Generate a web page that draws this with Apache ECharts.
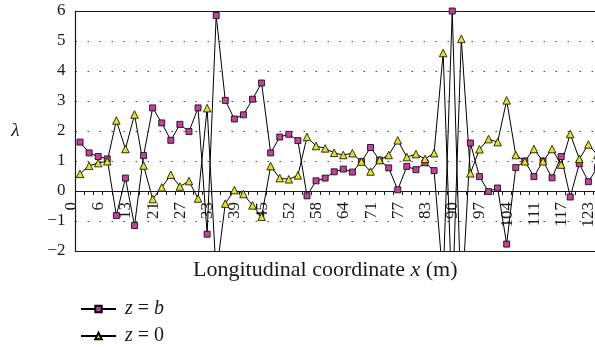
<!DOCTYPE html>
<html>
<head>
<meta charset="utf-8">
<script src="https://cdn.jsdelivr.net/npm/echarts@6/dist/echarts.min.js"></script>
<style>
  html, body { margin: 0; padding: 0; background: #fff; overflow: hidden; }
  #chart { width: 610px; height: 347px; }
</style>
</head>
<body>
<div id="chart"></div>
<script>
// x positions shown on the axis (every third measuring point)
var tickLabels = [0, 6, 13, 21, 27, 33, 39, 45, 52, 58, 64, 71, 77, 83, 90, 97, 104, 111, 117, 123];
var pointCount = 58;

// lambda at z = b (squares)
var zB = [1.63, 1.27, 1.15, 1.07, -0.82, 0.43, -1.15, 1.18, 2.77, 2.27,
          1.69, 2.22, 1.98, 2.77, -1.44, 5.85, 3.02, 2.4, 2.54, 3.06,
          3.6, 1.27, 1.8, 1.89, 1.68, -0.16, 0.34, 0.43, 0.64, 0.73,
          0.63, 0.98, 1.45, 1.03, 0.77, 0.04, 0.82, 0.71, 0.94, 0.68,
          -3.0, 6.0, -4.0, 1.6, 0.48, -0.02, 0.1, -1.77, 0.78, 1.0,
          0.48, 1.0, 0.44, 1.15, -0.2, 0.91, 0.31, 0.78];

// lambda at z = 0 (triangles)
var z0 = [0.57, 0.84, 0.93, 0.99, 2.35, 1.4, 2.55, 0.85, -0.27, 0.12,
          0.54, 0.15, 0.33, -0.25, 2.76, -2.8, -0.42, 0.03, -0.1, -0.48,
          -0.86, 0.83, 0.43, 0.39, 0.52, 1.8, 1.5, 1.42, 1.27, 1.2,
          1.26, 0.98, 0.65, 1.03, 1.2, 1.69, 1.13, 1.23, 1.07, 1.26,
          4.6, -3.8, 5.07, 0.59, 1.39, 1.73, 1.63, 3.02, 1.2, 0.99,
          1.4, 0.99, 1.4, 0.88, 1.9, 1.07, 1.55, 1.2];

var categories = [];
for (var i = 0; i < pointCount; i++) {
  categories.push(String(i));
}

var serif = '"Liberation Serif", serif';
var ink = '#1a1a1a';
var yMin = -2, yMax = 6;
var gridTop = 11, gridH = 240;
// the labelled x axis sits on lambda = 0
var zeroOffset = -gridH * (0 - yMin) / (yMax - yMin);

var borderAxis = function (pos) {
  return {
    type: 'category',
    data: categories,
    position: pos,
    axisLine: { onZero: false, lineStyle: { color: ink, width: 1.2 } },
    axisTick: { show: false },
    axisLabel: { show: false },
    splitLine: { show: false }
  };
};

var txt = function (size, italic) {
  return { fontFamily: serif, fontSize: size, fontWeight: 'normal', fontStyle: italic ? 'italic' : 'normal', color: ink };
};

var legendText = {
  padding: [0, 0, 0, 4],
  rich: { r: txt(20, false), i: txt(20, true) }
};
var legendFmt = function (name) {
  return name === 'z = b' ? '{i|z}{r| = }{i|b}' : '{i|z}{r| = 0}';
};

var myChart = echarts.init(document.getElementById('chart'));
var option = {
  animation: false,
  backgroundColor: '#fff',
  title: {
    text: '{r|Longitudinal coordinate }{i|x}{r| (m)}',
    left: 188,
    top: 254,
    textStyle: { fontWeight: 'normal', rich: { r: txt(22, false), i: txt(22, true) } }
  },
  legend: [
    { left: 75, top: 294, itemWidth: 35, itemHeight: 8, data: ['z = b'], formatter: legendFmt, textStyle: legendText },
    { left: 75, top: 321, itemWidth: 35, itemHeight: 8, data: ['z = 0'], formatter: legendFmt, textStyle: legendText }
  ],
  grid: {
    left: 75.5,
    top: gridTop,
    height: gridH,
    right: 8
  },
  xAxis: [
    {
      type: 'category',
      data: categories,
      position: 'bottom',
      offset: zeroOffset,
      boundaryGap: true,
      axisLine: { onZero: false, lineStyle: { color: ink, width: 1.2 } },
      axisTick: { show: true, interval: 0, length: 4, lineStyle: { color: ink } },
      axisLabel: {
        interval: 2,
        rotate: 90,
        margin: 11,
        verticalAlign: 'bottom',
        fontFamily: serif,
        fontSize: 17,
        color: ink,
        formatter: function (v, idx) { return idx % 3 === 0 ? String(tickLabels[idx / 3]) : ''; }
      },
      splitLine: { show: false }
    },
    borderAxis('bottom'),
    borderAxis('top')
  ],
  yAxis: {
    type: 'value',
    min: yMin,
    max: yMax,
    interval: 1,
    name: 'λ',
    nameLocation: 'middle',
    nameRotate: 0,
    nameGap: 56,
    nameTextStyle: txt(19, true),
    axisLine: { show: true, onZero: false, lineStyle: { color: ink, width: 1.2 } },
    axisTick: { show: false },
    axisLabel: {
      margin: 10,
      fontFamily: serif,
      fontSize: 17,
      color: ink,
      formatter: function (v) { return String(v).replace('-', '\u2212'); }
    },
    splitLine: { show: true, lineStyle: { color: '#444', width: 1, type: [1.5, 10.5] } }
  },
  series: [
    {
      name: 'z = b',
      type: 'line',
      xAxisIndex: 0,
      data: zB,
      symbol: 'rect',
      symbolSize: 6,
      showAllSymbol: true,
      itemStyle: { color: '#c4409e', borderColor: '#000', borderWidth: 0.8 },
      lineStyle: { color: '#000', width: 1 }
    },
    {
      name: 'z = 0',
      type: 'line',
      xAxisIndex: 0,
      data: z0,
      symbol: 'triangle',
      symbolSize: 7.5,
      showAllSymbol: true,
      itemStyle: { color: '#e3e31a', borderColor: '#000', borderWidth: 0.8 },
      lineStyle: { color: '#000', width: 1 }
    }
  ]
};
myChart.setOption(option);
</script>
</body>
</html>
